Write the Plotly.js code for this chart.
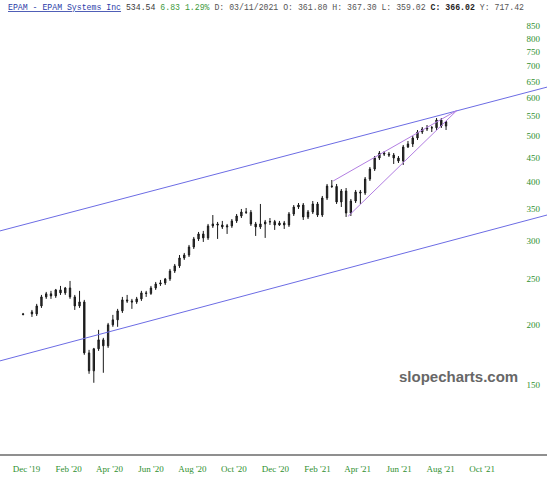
<!DOCTYPE html>
<html>
<head>
<meta charset="utf-8">
<script src="https://cdn.plot.ly/plotly-3.0.1.min.js"></script>
<style>html,body{margin:0;padding:0;background:#fff;}#chart{width:547px;height:480px;}</style>
</head>
<body>
<div id="chart"></div>
<script>
// ---- header values ----
const ticker = "EPAM";
const companyName = "EPAM Systems Inc";
const lastPrice = "534.54";
const change = "6.83";
const changePct = "1.29%";
const cursorDate = "03/11/2021";
const cursorOpen = "361.80";
const cursorHigh = "367.30";
const cursorLow = "359.02";
const cursorClose = "366.02";
const cursorY = "717.42";

// ---- weekly candles ----
const dates = ["2019-11-26","2019-12-09","2019-12-16","2019-12-23","2019-12-30","2020-01-06","2020-01-13","2020-01-20","2020-01-27","2020-02-03","2020-02-10","2020-02-17","2020-02-24","2020-03-02","2020-03-09","2020-03-16","2020-03-23","2020-03-30","2020-04-06","2020-04-13","2020-04-20","2020-04-27","2020-05-04","2020-05-11","2020-05-18","2020-05-25","2020-06-01","2020-06-08","2020-06-15","2020-06-22","2020-06-29","2020-07-06","2020-07-13","2020-07-20","2020-07-27","2020-08-03","2020-08-10","2020-08-17","2020-08-24","2020-08-31","2020-09-07","2020-09-14","2020-09-21","2020-09-28","2020-10-05","2020-10-12","2020-10-19","2020-10-26","2020-11-02","2020-11-09","2020-11-16","2020-11-23","2020-11-30","2020-12-07","2020-12-14","2020-12-21","2020-12-28","2021-01-04","2021-01-11","2021-01-18","2021-01-25","2021-02-01","2021-02-08","2021-02-15","2021-02-22","2021-03-01","2021-03-08","2021-03-15","2021-03-22","2021-03-29","2021-04-05","2021-04-12","2021-04-19","2021-04-26","2021-05-03","2021-05-10","2021-05-17","2021-05-24","2021-05-31","2021-06-07","2021-06-14","2021-06-21","2021-06-28","2021-07-05","2021-07-12","2021-07-19","2021-07-26","2021-08-02","2021-08-09"];
const opens  = [211.0,213.0,211.0,219.3,229.1,232.5,230.2,237.0,233.6,239.2,229.1,219.3,223.6,174.7,160.2,178.2,186.1,180.8,200.1,205.0,214.1,225.8,224.7,223.6,226.9,233.6,233.0,239.2,243.9,245.1,249.9,259.7,266.2,276.6,280.6,291.7,303.3,310.7,304.8,323.0,326.1,324.5,321.4,323.0,330.9,338.9,345.5,345.0,326.1,321.4,326.1,329.3,329.8,324.5,327.7,324.5,342.2,354.0,357.4,337.3,345.5,359.2,340.5,369.8,391.8,391.0,362.7,382.5,343.9,364.4,380.7,378.9,405.3,425.4,448.7,459.7,457.5,455.2,448.7,442.3,473.3,480.2,494.3,508.8,516.3,518.8,519.5,539.3,523.8];
const highs  = [212.0,215.1,221.5,231.3,234.7,235.9,238.1,241.6,240.4,247.5,231.3,235.9,225.8,177.3,179.0,195.3,187.9,202.0,210.0,216.2,229.1,231.3,226.9,229.1,235.9,235.9,241.6,246.3,248.7,251.1,262.3,268.7,280.6,283.4,294.6,306.2,313.7,315.3,326.1,340.5,329.3,330.9,326.1,334.0,342.2,350.6,352.3,348.9,329.3,359.2,332.5,335.6,332.5,330.9,330.9,345.5,357.4,360.9,360.9,348.9,364.4,362.7,373.4,395.7,403.4,395.7,386.2,388.1,368.0,384.4,384.4,409.3,429.6,453.0,464.1,464.1,461.9,459.7,453.0,477.9,487.2,499.1,513.8,521.3,526.4,523.8,544.5,544.5,536.9];
const lows   = [209.5,207.9,208.9,217.2,226.9,226.9,228.0,231.3,231.3,226.9,215.1,217.2,173.1,157.9,151.2,176.4,158.7,179.0,198.2,198.2,212.0,222.5,216.2,221.5,224.7,229.1,231.3,237.0,241.6,242.7,247.5,257.2,263.6,274.0,277.9,288.9,300.3,298.9,301.8,319.9,303.3,318.3,310.7,319.9,327.7,335.6,342.2,323.0,307.7,318.3,304.8,324.5,316.8,323.0,318.3,321.4,338.9,350.6,332.5,334.0,342.2,337.3,337.3,366.2,388.1,359.2,354.0,337.3,338.9,360.9,359.2,375.2,401.5,421.4,444.4,453.0,450.9,435.9,438.0,433.8,471.0,473.3,489.6,503.9,511.3,508.8,513.8,518.8,513.8];
const closes = [210.5,211.0,219.3,229.1,232.5,230.2,237.0,233.6,239.2,229.1,219.3,223.6,174.7,160.2,178.2,186.1,180.8,200.1,205.0,214.1,225.8,224.7,223.6,226.9,233.6,233.0,239.2,243.9,245.1,249.9,259.7,266.2,276.6,280.6,291.7,303.3,310.7,304.8,323.0,326.1,324.5,321.4,323.0,330.9,338.9,345.5,345.0,326.1,321.4,326.1,329.3,329.8,324.5,327.7,324.5,342.2,354.0,357.4,337.3,345.5,359.2,340.5,369.8,391.8,391.0,362.7,382.5,343.9,364.4,380.7,378.9,405.3,425.4,448.7,459.7,457.5,455.2,448.7,442.3,473.3,480.2,494.3,508.8,516.3,518.8,519.5,539.3,523.8,534.54];

// ---- trend lines (endpoints) ----
const viewStart = "2019-10-23 00:43";
const viewEnd = "2022-01-04 10:34";
const channelDates = [viewStart, viewEnd];
const channelUpper = [315.3, 632.3];
const channelLower = [168.1, 340.5];
const wedgeUpperDates = ["2021-02-24", "2021-08-25"];
const wedgeUpper = [401.5, 565.0];
const wedgeLowerDates = ["2021-03-18", "2021-08-25"];
const wedgeLower = [338.5, 565.0];

// ---- axis ticks ----
const xTickVals = ["2019-12-01","2020-02-01","2020-04-01","2020-06-01","2020-08-01","2020-10-01","2020-12-01","2021-02-01","2021-04-01","2021-06-01","2021-08-01","2021-10-01"];
const xTickText = ["Dec '19","Feb '20","Apr '20","Jun '20","Aug '20","Oct '20","Dec '20","Feb '21","Apr '21","Jun '21","Aug '21","Oct '21"];
const yTickVals = [150,200,250,300,350,400,450,500,550,600,650,700,750,800,850];
const yTickText = yTickVals.map(String);

const tickFont = {family: "'Liberation Serif', 'DejaVu Serif', serif", size: 9, color: "#2f8f2f"};

const traces = [
  {type: "scatter", mode: "lines", x: channelDates, y: channelUpper, line: {color: "#6c6ce4", width: 1}, hoverinfo: "skip"},
  {type: "scatter", mode: "lines", x: channelDates, y: channelLower, line: {color: "#6c6ce4", width: 1}, hoverinfo: "skip"},
  {type: "scatter", mode: "lines", x: wedgeUpperDates, y: wedgeUpper, line: {color: "#b27ee2", width: 1}, hoverinfo: "skip"},
  {type: "scatter", mode: "lines", x: wedgeLowerDates, y: wedgeLower, line: {color: "#b27ee2", width: 1}, hoverinfo: "skip"},
  {type: "candlestick", x: dates, open: opens, high: highs, low: lows, close: closes,
   increasing: {line: {color: "#1a1a1a", width: 1}, fillcolor: "#333"},
   decreasing: {line: {color: "#1a1a1a", width: 1}, fillcolor: "#1a1a1a"},
   whiskerwidth: 0, hoverinfo: "skip"}
];

const header = `<u>${ticker} - ${companyName}</u>` +
  ` <span style="color:#3a3a3a">${lastPrice}</span>` +
  ` <span style="color:#3d9a3d">${change} ${changePct}</span>` +
  ` <span style="color:#555">D: ${cursorDate} O: ${cursorOpen} H: ${cursorHigh} L: ${cursorLow}</span>` +
  ` <span style="color:#222"><b>C: ${cursorClose}</b></span>` +
  ` <span style="color:#555">Y: ${cursorY}</span>`;

const layout = {
  width: 547, height: 480,
  margin: {l: 0, r: 0, t: 20, b: 26, pad: 0},
  paper_bgcolor: "#fff", plot_bgcolor: "#fff",
  showlegend: false,
  boxgap: 0.6,
  xaxis: {
    type: "date", range: [viewStart, viewEnd],
    tickvals: xTickVals, ticktext: xTickText,
    showgrid: false, zeroline: false,
    showline: true, linecolor: "#8f8f8f", linewidth: 2,
    ticks: "", tickfont: tickFont, ticklabelstandoff: 5,
    rangeslider: {visible: false}, fixedrange: true
  },
  yaxis: {
    type: "log", range: [2.02986, 2.94200], side: "right",
    ticklabelposition: "inside",
    tickvals: yTickVals, ticktext: yTickText,
    showgrid: false, zeroline: false, showline: false,
    ticks: "", tickfont: tickFont, ticklabelstandoff: 4,
    fixedrange: true
  },
  annotations: [
    {xref: "paper", yref: "paper", x: 6/547, y: (454-8)/434, xanchor: "left", yanchor: "middle",
     showarrow: false, text: header,
     font: {family: "'Courier New', 'Liberation Mono', monospace", size: 8.2, color: "#2a3ca8"}},
    {xref: "paper", yref: "paper", x: 458.5/547, y: (454-376)/434, xanchor: "center", yanchor: "middle",
     showarrow: false, text: "<b>slopecharts.com</b>",
     font: {family: "'Liberation Sans', Arial, sans-serif", size: 15, color: "#676767"}}
  ]
};

Plotly.newPlot("chart", traces, layout, {displayModeBar: false, staticPlot: true});
</script>
</body>
</html>
